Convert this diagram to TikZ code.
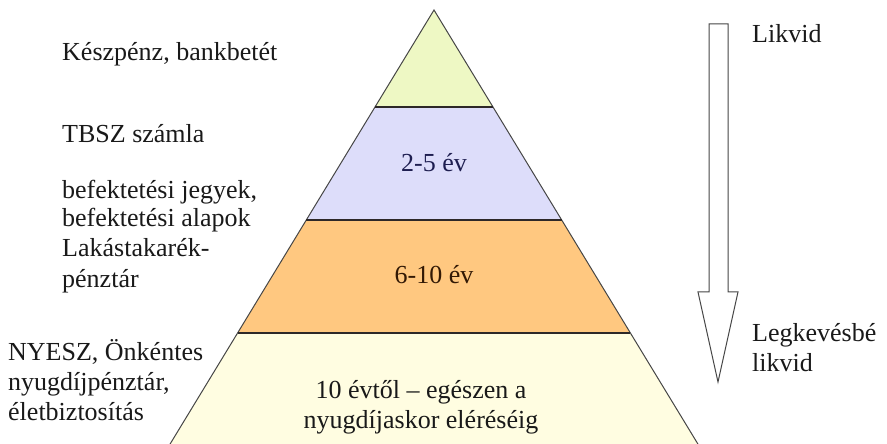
\documentclass[tikz,border=0pt]{standalone}
\usepackage{fontspec}
\newfontfamily\tnr{Liberation Serif}
\definecolor{lgreen}{RGB}{238,248,196}
\definecolor{llav}{RGB}{221,221,250}
\definecolor{lorange}{RGB}{255,200,128}
\definecolor{lyellow}{RGB}{255,253,225}
\definecolor{edgegray}{RGB}{70,70,70}
\definecolor{divgray}{RGB}{45,40,40}
\definecolor{navytext}{RGB}{30,30,80}
\definecolor{browntext}{RGB}{50,25,5}
\definecolor{txt}{RGB}{25,25,25}
\begin{document}
\begin{tikzpicture}[x=1pt,y=1pt,
  lbl/.style={inner sep=0pt, anchor=base west, text=txt, font=\tnr\fontsize{26}{30}\selectfont},
  ctr/.style={inner sep=0pt, anchor=base, text=txt, font=\tnr\fontsize{26}{30}\selectfont},
  edge/.style={draw=edgegray, line width=1pt, line join=miter},
  divider/.style={draw=divgray, line width=2pt},
  arrowline/.style={draw=edgegray, line width=1pt, fill=white, line join=miter}]
\useasboundingbox (0,0) rectangle (887,444);
% pyramid geometry
\coordinate (apex) at (434,434);
\coordinate (l1) at (375,337);   \coordinate (r1) at (493,337);
\coordinate (l2) at (306.3,224); \coordinate (r2) at (561.7,224);
\coordinate (l3) at (237.6,111); \coordinate (r3) at (630.4,111);
\coordinate (l4) at (170.1,0);   \coordinate (r4) at (697.9,0);
% layers
\fill[lgreen]  (apex) -- (r1) -- (l1) -- cycle;
\fill[llav]    (l1) -- (r1) -- (r2) -- (l2) -- cycle;
\fill[lorange] (l2) -- (r2) -- (r3) -- (l3) -- cycle;
\fill[lyellow] (l3) -- (r3) -- (r4) -- (l4) -- cycle;
\draw[edge] (l4) -- (apex) -- (r4);
\draw[divider] (l1) -- (r1);
\draw[divider, line width=2.5pt] (l2) -- (r2);
\draw[divider] (l3) -- (r3);
% layer texts
\node[ctr, text=navytext] (t25) at (434,272) {2-5 év};
\node[ctr, text=browntext] (t610) at (434,160) {6-10 év};
\node[ctr] (t10a) at (421,45) {10 évtől – egészen a};
\node[ctr] (t10b) at (421,15) {nyugdíjaskor eléréséig};
% left texts
\node[lbl] (k1) at (62,383) {Készpénz, bankbetét};
\node[lbl] (k2) at (62,301) {TBSZ számla};
\node[lbl] (k3) at (62,245) {befektetési jegyek,};
\node[lbl] (k4) at (62,217) {befektetési alapok};
\node[lbl] (k5) at (62,187) {Lakástakarék-};
\node[lbl] (k6) at (62,156) {pénztár};
\node[lbl] (k7) at (8,83) {NYESZ, Önkéntes};
\node[lbl] (k8) at (8,53) {nyugdíjpénztár,};
\node[lbl] (k9) at (8,23) {életbiztosítás};
% arrow
\draw[arrowline] (709,420) -- (728,420) -- (728,152) -- (738,152) -- (718,62) -- (698,152) -- (709,152) -- cycle;
\node[lbl] (liq) at (752,401) {Likvid};
\node[lbl] (lq1) at (752,102) {Legkevésbé};
\node[lbl] (lq2) at (752,72) {likvid};
\end{tikzpicture}
\end{document}
